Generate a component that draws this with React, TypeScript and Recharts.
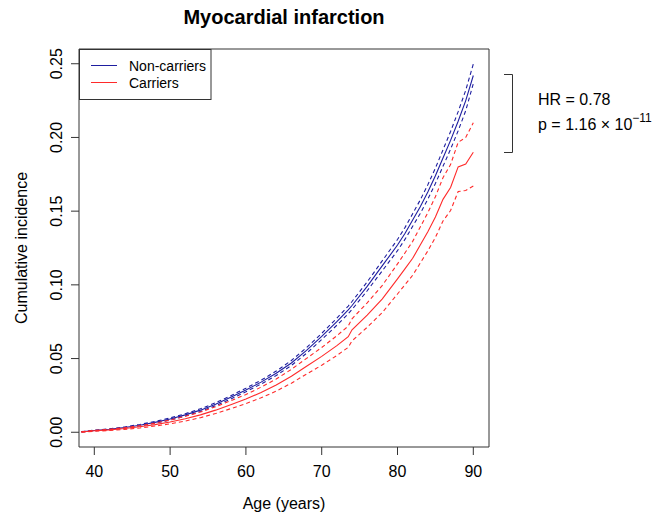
import React from 'react';
import { LineChart, Line, XAxis, YAxis, ReferenceArea } from 'recharts';

const ages = [38.3, 40, 42, 44, 46, 48, 50, 52, 54, 56, 58, 60, 62, 64, 66, 68, 70, 72, 73.5, 74, 76, 78, 80, 81, 82, 83, 84, 85, 86, 87, 88, 89, 90];

const nonCarriers = [0.0003, 0.0012, 0.002, 0.0032, 0.0048, 0.0067, 0.009, 0.0118, 0.015, 0.019, 0.0237, 0.0287, 0.034, 0.04, 0.047, 0.0555, 0.065, 0.075, 0.083, 0.086, 0.099, 0.113, 0.127, 0.135, 0.144, 0.153, 0.163, 0.174, 0.186, 0.198, 0.211, 0.225, 0.242];
const nonCarriersUpper = [0.0004, 0.0014, 0.0023, 0.0036, 0.0053, 0.0073, 0.0097, 0.0126, 0.0159, 0.02, 0.0248, 0.0299, 0.0353, 0.0415, 0.0487, 0.0574, 0.0671, 0.0774, 0.0856, 0.0887, 0.102, 0.1164, 0.1308, 0.139, 0.1483, 0.1576, 0.1679, 0.1792, 0.1916, 0.204, 0.2175, 0.232, 0.2498];
const nonCarriersLower = [0.0002, 0.001, 0.0017, 0.0028, 0.0043, 0.0061, 0.0083, 0.011, 0.0141, 0.018, 0.0226, 0.0275, 0.0327, 0.0385, 0.0453, 0.0536, 0.0629, 0.0726, 0.0804, 0.0833, 0.096, 0.1096, 0.1232, 0.131, 0.1397, 0.1484, 0.1581, 0.1688, 0.1804, 0.192, 0.2045, 0.2182, 0.2365];

const carriers = [0.0002, 0.001, 0.0016, 0.0025, 0.0037, 0.0052, 0.007, 0.0092, 0.0118, 0.015, 0.0187, 0.0225, 0.027, 0.032, 0.038, 0.0448, 0.0515, 0.0588, 0.0648, 0.0695, 0.0795, 0.0905, 0.104, 0.111, 0.118, 0.127, 0.136, 0.146, 0.158, 0.166, 0.18, 0.182, 0.19];
const carriersUpper = [0.0003, 0.0013, 0.002, 0.0031, 0.0045, 0.0062, 0.0083, 0.0108, 0.0137, 0.0173, 0.0214, 0.0256, 0.0306, 0.0361, 0.0427, 0.0501, 0.0575, 0.0655, 0.072, 0.077, 0.0878, 0.0997, 0.1142, 0.1218, 0.1295, 0.1392, 0.149, 0.1598, 0.1727, 0.1816, 0.1967, 0.2, 0.21];
const carriersLower = [0.0001, 0.0007, 0.0012, 0.0019, 0.0029, 0.0042, 0.0057, 0.0076, 0.0099, 0.0127, 0.016, 0.0194, 0.0234, 0.0279, 0.0333, 0.0395, 0.0455, 0.0521, 0.0576, 0.062, 0.0712, 0.0813, 0.0938, 0.1002, 0.1065, 0.1148, 0.123, 0.1322, 0.1433, 0.1504, 0.1633, 0.164, 0.167];

const xTicks = [40, 50, 60, 70, 80, 90];
const yTicks = [0, 0.05, 0.1, 0.15, 0.2, 0.25];
const xDomain = [37.98, 92.07];
const yDomain = [-0.01, 0.26];

const title = 'Myocardial infarction';
const xLabel = 'Age (years)';
const yLabel = 'Cumulative incidence';
const seriesNames = ['Non-carriers', 'Carriers'];
const hrText = 'HR = 0.78';
const pText = 'p = 1.16 \u00d7 10';
const pExp = '\u221211';

const data = ages.map((age, i) => ({
  age,
  nc: nonCarriers[i],
  ncU: nonCarriersUpper[i],
  ncL: nonCarriersLower[i],
  c: carriers[i],
  cU: carriersUpper[i],
  cL: carriersLower[i],
}));

const BLUE = '#1e1ea0';
const RED = '#ff2a2a';
const FONT = '"Liberation Sans", Arial, sans-serif';

const XTick = (props: any) => {
  const { x, payload } = props;
  return (
    <text x={x} y={477} textAnchor="middle" fontSize={16} fontFamily={FONT} fill="#000">
      {payload.value}
    </text>
  );
};

const YTick = (props: any) => {
  const { y, payload } = props;
  const bx = 62;
  return (
    <text x={bx} y={y} transform={`rotate(-90, ${bx}, ${y})`} textAnchor="middle" fontSize={16} fontFamily={FONT} fill="#000">
      {Number(payload.value).toFixed(2)}
    </text>
  );
};

export default function App() {
  return (
    <div style={{ position: 'absolute', left: 0, top: 0, width: 670, height: 516, background: '#fff' }}>
      <LineChart width={670} height={516} data={data} margin={{ top: 49, right: 181, bottom: 0, left: 0 }}>
        <XAxis
          dataKey="age"
          type="number"
          domain={xDomain}
          ticks={xTicks}
          height={69}
          tickSize={8}
          axisLine={false}
          tickLine={{ stroke: '#333' }}
          tick={<XTick />}
          allowDataOverflow
        />
        <YAxis
          type="number"
          domain={yDomain}
          ticks={yTicks}
          width={79}
          tickSize={8}
          axisLine={false}
          tickLine={{ stroke: '#333' }}
          tick={<YTick />}
          allowDataOverflow
        />
        <ReferenceArea x1={xDomain[0]} x2={xDomain[1]} y1={yDomain[0]} y2={yDomain[1]} fill="none" stroke="#333" strokeWidth={1} ifOverflow="visible" />
        <Line dataKey="ncU" stroke={BLUE} strokeWidth={1.1} strokeDasharray="4 3" dot={false} isAnimationActive={false} />
        <Line dataKey="ncL" stroke={BLUE} strokeWidth={1.1} strokeDasharray="4 3" dot={false} isAnimationActive={false} />
        <Line dataKey="nc" stroke={BLUE} strokeWidth={1.1} dot={false} isAnimationActive={false} />
        <Line dataKey="cU" stroke={RED} strokeWidth={1.1} strokeDasharray="4 3" dot={false} isAnimationActive={false} />
        <Line dataKey="cL" stroke={RED} strokeWidth={1.1} strokeDasharray="4 3" dot={false} isAnimationActive={false} />
        <Line dataKey="c" stroke={RED} strokeWidth={1.1} dot={false} isAnimationActive={false} />
      </LineChart>
      <svg width={670} height={516} style={{ position: 'absolute', left: 0, top: 0, pointerEvents: 'none' }} fontFamily={FONT}>
        <text x={284} y={23.5} textAnchor="middle" fontSize={20} fontWeight="bold" fill="#000">{title}</text>
        <text x={284} y={509} textAnchor="middle" fontSize={16} fill="#000">{xLabel}</text>
        <text x={27} y={248} transform="rotate(-90, 27, 248)" textAnchor="middle" fontSize={16} fill="#000">{yLabel}</text>
        <rect x={79.5} y={49.5} width={131.5} height={50} fill="#fff" stroke="#333" strokeWidth={1} />
        <line x1={91} x2={117} y1={65.5} y2={65.5} stroke={BLUE} strokeWidth={1} />
        <line x1={91} x2={117} y1={82.5} y2={82.5} stroke={RED} strokeWidth={1} />
        <text x={129} y={71} fontSize={14} fill="#000">{seriesNames[0]}</text>
        <text x={129} y={88} fontSize={14} fill="#000">{seriesNames[1]}</text>
        <path d="M504 74.5 H512.5 V152.5 H504" fill="none" stroke="#333" strokeWidth={1} />
        <text x={538} y={104.5} fontSize={16} fill="#000">{hrText}</text>
        <text x={538} y={129.5} fontSize={16} fill="#000">
          {pText}
          <tspan dy={-8} fontSize={12}>{pExp}</tspan>
        </text>
      </svg>
    </div>
  );
}
